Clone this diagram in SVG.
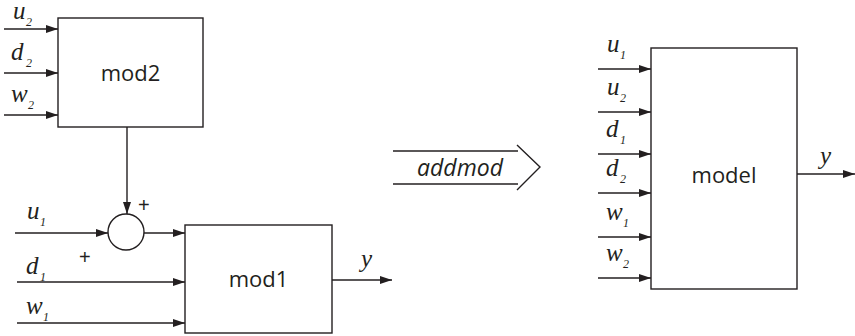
<svg xmlns="http://www.w3.org/2000/svg" width="855" height="336" viewBox="0 0 855 336">
<defs>
<marker id="ah" viewBox="0 0 12 8" refX="12" refY="4" markerWidth="12" markerHeight="8" markerUnits="userSpaceOnUse" orient="auto">
<path d="M0,0 L12,4 L0,8 Z" fill="#231f20"/>
</marker>
<style>
.box{fill:#fff;stroke:#231f20;stroke-width:1.4}
.ln{fill:none;stroke:#231f20;stroke-width:1.4}
.ar{fill:none;stroke:#231f20;stroke-width:1.4;marker-end:url(#ah)}
.lab{font-family:"Liberation Serif",serif;font-style:italic;font-size:25px;fill:#231f20}
.sub{font-family:"Liberation Serif",serif;font-style:italic;font-size:12px;fill:#231f20}
.nm{font-family:"Open Sans","Liberation Sans",sans-serif;font-size:22px;fill:#231f20;text-anchor:middle}
.pl{font-family:"Liberation Sans",sans-serif;font-size:20px;fill:#231f20}
</style>
</defs>
<g id="mod2">
<rect class="box" x="58" y="18" width="145" height="109"/>
<text class="nm" x="130.5" y="81">mod2</text>
</g>
<g id="sum">
<circle class="box" cx="126" cy="232" r="18"/>
<text class="pl" x="138" y="212">+</text>
<text class="pl" x="79" y="264">+</text>
</g>
<g id="mod1">
<rect class="box" x="185" y="225" width="147" height="108"/>
<text class="nm" x="258.5" y="287">mod1</text>
</g>
<g id="addmod">
<line class="ln" x1="393" y1="151" x2="518" y2="151"/>
<line class="ln" x1="393" y1="184" x2="518" y2="184"/>
<polyline class="ln" points="517,145 540,167 517,190"/>
<text x="460" y="176" style="font-family:'Open Sans','Liberation Sans',sans-serif;font-style:italic;font-size:23px;fill:#231f20" text-anchor="middle">addmod</text>
</g>
<g id="model">
<rect class="box" x="651" y="48" width="146" height="241"/>
<text class="nm" x="724" y="183">model</text>
</g>
<g id="connectors">
<line class="ar" x1="4" y1="29" x2="58" y2="29"/>
<line class="ar" x1="4" y1="73" x2="58" y2="73"/>
<line class="ar" x1="4" y1="115" x2="58" y2="115"/>
<line class="ar" x1="127" y1="127" x2="127" y2="214"/>
<line class="ar" x1="15" y1="233" x2="108" y2="233"/>
<line class="ar" x1="144" y1="233" x2="185" y2="233"/>
<line class="ar" x1="17" y1="282" x2="185" y2="282"/>
<line class="ar" x1="17" y1="323" x2="185" y2="323"/>
<line class="ar" x1="332" y1="280" x2="392" y2="280"/>
<line class="ar" x1="598" y1="69" x2="651" y2="69"/>
<line class="ar" x1="598" y1="112" x2="651" y2="112"/>
<line class="ar" x1="598" y1="154" x2="651" y2="154"/>
<line class="ar" x1="598" y1="193" x2="651" y2="193"/>
<line class="ar" x1="598" y1="237" x2="651" y2="237"/>
<line class="ar" x1="598" y1="278" x2="651" y2="278"/>
<line class="ar" x1="797" y1="174" x2="855" y2="174"/>
</g>
<g id="labels">
<text class="lab" x="13" y="19">u</text><text class="sub" x="26" y="26">2</text>
<text class="lab" x="11" y="60">d</text><text class="sub" x="26" y="67">2</text>
<text class="lab" x="11" y="102">w</text><text class="sub" x="28" y="109">2</text>
<text class="lab" x="27" y="219">u</text><text class="sub" x="40" y="226">1</text>
<text class="lab" x="26" y="274">d</text><text class="sub" x="40" y="281">1</text>
<text class="lab" x="26" y="314">w</text><text class="sub" x="43" y="321">1</text>
<text class="lab" x="361" y="267">y</text>
<text class="lab" x="607" y="52">u</text><text class="sub" x="620" y="59">1</text>
<text class="lab" x="607" y="95">u</text><text class="sub" x="620" y="102">2</text>
<text class="lab" x="606" y="137">d</text><text class="sub" x="620" y="144">1</text>
<text class="lab" x="606" y="176">d</text><text class="sub" x="620" y="183">2</text>
<text class="lab" x="606" y="220">w</text><text class="sub" x="623" y="227">1</text>
<text class="lab" x="606" y="261">w</text><text class="sub" x="623" y="268">2</text>
<text class="lab" x="820" y="164">y</text>
</g>
</svg>
